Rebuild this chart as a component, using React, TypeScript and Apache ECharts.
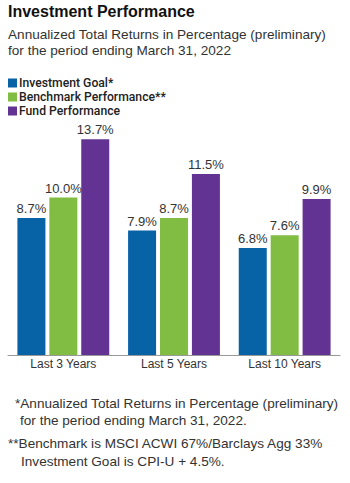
import React, { useEffect, useRef } from "react";
import * as echarts from "echarts";

const categories = ["Last 3 Years", "Last 5 Years", "Last 10 Years"];
const investmentGoal = [8.7, 7.9, 6.8];
const benchmark = [10.0, 8.7, 7.6];
const fund = [13.7, 11.5, 9.9];
const seriesNames = ["Investment Goal*", "Benchmark Performance**", "Fund Performance"];
const colors = ["#0862a6", "#82bd43", "#633393"];
const titleText = "Investment Performance";
const subtitleLines = [
  "Annualized Total Returns in Percentage (preliminary)",
  "for the period ending March 31, 2022",
];
const footnoteLines = [
  "*Annualized Total Returns in Percentage (preliminary)",
  "for the period ending March 31, 2022.",
  "**Benchmark is MSCI ACWI 67%/Barclays Agg 33%",
  "Investment Goal is CPI-U + 4.5%.",
];

const FONT = "'Liberation Sans', Arial, sans-serif";

export default function App() {
  const ref = useRef<HTMLDivElement>(null);
  useEffect(() => {
    if (!ref.current) return;
    const chart = echarts.init(ref.current, null, { renderer: "svg" });
    const mk = (name: string, data: number[], color: string) => ({
      name,
      type: "bar",
      data,
      barWidth: 28,
      barGap: "14%",
      itemStyle: { color },
      label: {
        show: true,
        position: "top",
        distance: 3,
        formatter: (p: any) => p.value.toFixed(1) + "%",
        fontFamily: FONT,
        fontSize: 13,
        color: "#333",
      },
    });
    const txt = (text: string, x: number, y: number, font: string, fill = "#333") => ({
      type: "text",
      x,
      y,
      style: { text, font, fill, verticalAlign: "middle", align: "left" },
    });
    const fnFont = `13.6px ${FONT}`;
    chart.setOption({
      animation: false,
      textStyle: { fontFamily: FONT },
      graphic: [
        txt(titleText, 8, 11, `bold 16px ${FONT}`, "#111"),
        txt(subtitleLines[0], 8, 34.5, `13.6px ${FONT}`),
        txt(subtitleLines[1], 8, 50.5, `13.6px ${FONT}`),
        txt(footnoteLines[0], 15, 403, fnFont),
        txt(footnoteLines[1], 20, 420.5, fnFont),
        txt(footnoteLines[2], 8, 443, fnFont),
        txt(footnoteLines[3], 21, 461, fnFont),
      ],
      legend: {
        orient: "vertical",
        left: 8,
        top: 76,
        padding: 0,
        itemWidth: 9,
        itemHeight: 9,
        itemGap: 0,
        icon: "rect",
        selectedMode: false,
        textStyle: {
          fontFamily: "Roboto, 'Liberation Sans', sans-serif",
          fontSize: 12.2,
          fontWeight: 500,
          color: "#222",
          lineHeight: 14,
          padding: [0, 0, 0, -3],
        },
        data: seriesNames,
      },
      grid: { left: 8, right: 10, top: 134.5, height: 220.5 },
      xAxis: {
        type: "category",
        data: categories,
        axisLine: { lineStyle: { color: "#999", width: 1 } },
        axisTick: { show: false },
        axisLabel: { fontFamily: FONT, fontSize: 12, color: "#333", margin: 3 },
      },
      yAxis: { type: "value", min: 0, max: 14, show: false, splitLine: { show: false } },
      color: colors,
      series: [
        mk(seriesNames[0], investmentGoal, colors[0]),
        mk(seriesNames[1], benchmark, colors[1]),
        mk(seriesNames[2], fund, colors[2]),
      ],
    });
    return () => chart.dispose();
  }, []);
  return <div ref={ref} style={{ position: "fixed", left: 0, top: 0, width: 350, height: 483, background: "#fff" }} />;
}
